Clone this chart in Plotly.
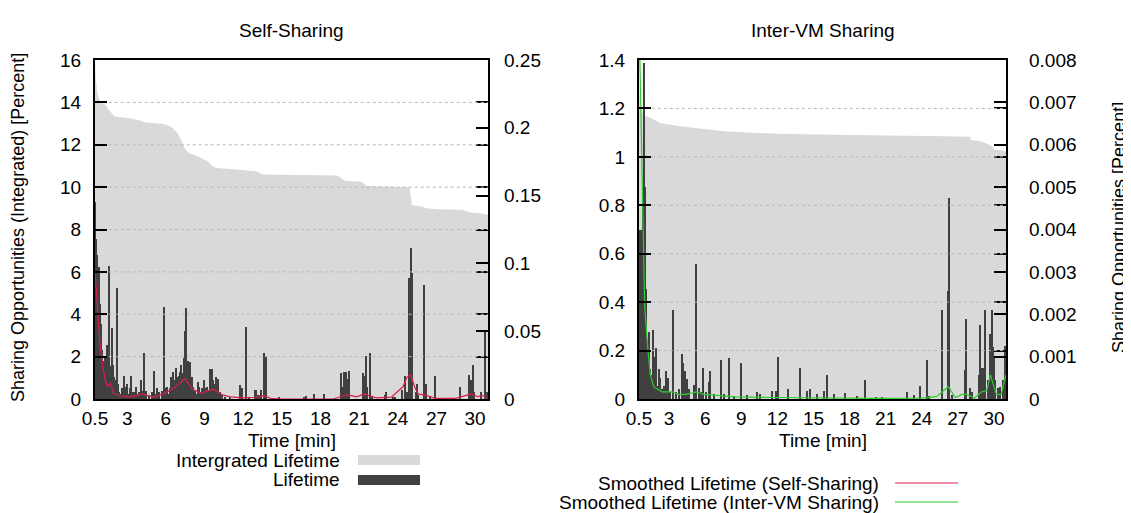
import plotly.graph_objects as go

# ---------------- data ----------------
x_tickvals = [0.5, 3, 6, 9, 12, 15, 18, 21, 24, 27, 30]
x_ticktext = ["0.5", "3", "6", "9", "12", "15", "18", "21", "24", "27", "30"]

# Self-Sharing: integrated lifetime (left axis, percent)
self_int_t = [0.5, 0.55, 0.65, 0.8, 1.0, 1.3, 1.5, 1.8, 2.0, 2.5, 3.2, 4.0, 4.4, 5.5, 6.0, 6.5, 6.9,
              7.2, 7.5, 7.8, 8.3, 8.8, 9.3, 9.6, 9.9, 11.0, 12.0, 13.0, 13.5, 19.3, 19.9, 21.2, 21.6,
              24.9, 25.1, 25.8, 26.2, 27.0, 29.0, 29.6, 30.5, 31.0]
self_int_v = [16.0, 15.2, 14.6, 14.2, 14.0, 13.9, 13.7, 13.5, 13.35, 13.3, 13.25, 13.15, 13.05, 13.0,
              12.95, 12.8, 12.55, 12.2, 11.8, 11.6, 11.5, 11.35, 11.2, 11.0, 10.9, 10.85, 10.8, 10.75,
              10.6, 10.55, 10.3, 10.25, 10.05, 10.0, 9.15, 9.1, 9.0, 8.95, 8.93, 8.8, 8.75, 8.7]

# Self-Sharing: lifetime (right axis, percent)
self_life_t = [0.5, 0.55, 0.6, 0.65, 0.7, 0.75, 0.8, 0.85, 0.9, 0.95, 1.0, 1.05, 1.1, 1.15, 1.2, 1.25,
               1.3, 1.35, 1.4, 1.45, 1.5, 1.55, 1.6, 1.65, 1.7, 1.75, 1.8, 1.85, 1.9, 1.95, 2.0, 2.1,
               2.2, 2.3, 2.4, 2.5, 2.6, 2.7, 2.8, 2.9, 3.0, 3.1, 3.2, 3.3, 3.4, 3.5, 3.6, 3.7, 3.8,
               3.9, 4.0, 4.1, 4.2, 4.3, 4.4, 4.5, 4.7, 4.9, 5.1, 5.2, 5.3, 5.5, 5.7, 5.88, 6.0, 6.1,
               6.2, 6.3, 6.4, 6.5, 6.6, 6.7, 6.8, 6.9, 7.0, 7.1, 7.2, 7.3, 7.4, 7.5, 7.58, 7.65, 7.7,
               7.8, 7.9, 8.0, 8.1, 8.2, 8.3, 8.4, 8.5, 8.6, 8.7, 8.8, 8.9, 9.0, 9.1, 9.2, 9.3, 9.4,
               9.5, 9.6, 9.7, 9.8, 9.9, 10.04, 10.2, 10.4, 10.6, 11.0, 11.76, 11.9, 12.24, 12.5,
               12.96, 13.0, 13.1, 13.2, 13.4, 13.6, 13.65, 13.75, 14.8, 16.7, 16.9, 17.5, 18.3,
               19.6, 19.7, 19.8, 19.85, 19.9, 19.95, 20.0, 20.1, 20.2, 21.3, 21.4, 21.45, 21.5,
               21.55, 21.6, 21.86, 22.0, 23.05, 23.1, 23.6, 23.8, 24.35, 24.6, 24.7, 24.9, 24.96,
               25.04, 25.1, 25.4, 25.5, 25.6, 26.05, 26.2, 26.5, 26.9, 28.8, 29.5, 29.6, 29.7,
               29.85, 29.95, 30.47, 30.8, 30.9]
self_life_v = [0.145, 0.118, 0.109, 0.100, 0.106, 0.090, 0.097, 0.072, 0.070, 0.055, 0.044, 0.036,
               0.028, 0.022, 0.019, 0.030, 0.031, 0.018, 0.019, 0.040, 0.028, 0.015, 0.098, 0.024,
               0.020, 0.016, 0.052, 0.022, 0.025, 0.012, 0.016, 0.014, 0.082, 0.011, 0.005, 0.004,
               0.008, 0.005, 0.017, 0.009, 0.011, 0.004, 0.008, 0.017, 0.005, 0.005, 0.003, 0.009,
               0.004, 0.005, 0.003, 0.014, 0.006, 0.034, 0.004, 0.006, 0.003, 0.005, 0.021, 0.004,
               0.008, 0.005, 0.006, 0.068, 0.008, 0.009, 0.004, 0.008, 0.016, 0.0125, 0.020, 0.014,
               0.023, 0.016, 0.017, 0.020, 0.025, 0.019, 0.030, 0.050, 0.067, 0.026, 0.028, 0.025,
               0.027, 0.016, 0.009, 0.006, 0.006, 0.004, 0.0125, 0.009, 0.005, 0.008, 0.004, 0.014,
               0.008, 0.009, 0.006, 0.022, 0.017, 0.022, 0.014, 0.011, 0.016, 0.015, 0.005, 0.003,
               0.0015, 0.0016, 0.010, 0.008, 0.053, 0.0015, 0.007, 0.007, 0.003, 0.003, 0.007,
               0.034, 0.009, 0.032, 0.0016, 0.0016, 0.002, 0.004, 0.004, 0.019, 0.009, 0.020, 0.020,
               0.020, 0.019, 0.020, 0.015, 0.021, 0.0195, 0.011, 0.017, 0.011, 0.032, 0.009, 0.034,
               0.002, 0.003, 0.005, 0.0016, 0.0016, 0.007, 0.017, 0.005, 0.089, 0.089, 0.111, 0.093,
               0.005, 0.011, 0.003, 0.084, 0.011, 0.0025, 0.017, 0.009, 0.018, 0.011, 0.014, 0.025,
               0.005, 0.005, 0.050, 0.005, 0.005]

# Self-Sharing: smoothed lifetime (right axis, percent)
self_smooth_t = [0.5, 0.7, 0.9, 1.08, 1.3, 1.47, 1.67, 1.98, 2.5, 3.3, 4.2, 5.0, 5.8, 6.7, 7.5, 8.0,
                 8.7, 9.7, 10.4, 11.0, 12.0, 13.0, 13.6, 14.1, 15.0, 19.0, 19.6, 20.0, 20.3, 20.8,
                 21.4, 22.3, 23.5, 24.4, 24.7, 25.0, 25.3, 25.58, 26.2, 26.9, 28.5, 29.7, 30.2,
                 30.55, 30.9]
self_smooth_v = [0.094, 0.0625, 0.039, 0.025, 0.014, 0.009, 0.0117, 0.0038, 0.0022, 0.0016, 0.0038,
                 0.0013, 0.0038, 0.0084, 0.0153, 0.0078, 0.0042, 0.0072, 0.003, 0.0016, 0.0009,
                 0.0013, 0.0027, 0.0005, 0.0, 0.0, 0.0016, 0.0031, 0.0027, 0.0016, 0.0038, 0.0009,
                 0.0014, 0.009, 0.016, 0.0177, 0.009, 0.0038, 0.0027, 0.0005, 0.0005, 0.0038,
                 0.0017, 0.0027, 0.0005]

# Inter-VM Sharing: integrated lifetime (left axis, percent)
vm_int_t = [0.5, 0.6, 0.75, 1.0, 1.4, 2.25, 3.5, 5.0, 7.8, 10.6, 12.0, 18.0, 24.0, 26.0, 28.0,
            28.1, 28.8, 29.4, 29.9, 30.0, 30.7, 31.0]
vm_int_v = [1.3, 1.21, 1.19, 1.17, 1.163, 1.14, 1.13, 1.12, 1.105, 1.1, 1.095, 1.09, 1.088, 1.085,
            1.083, 1.07, 1.065, 1.055, 1.042, 1.03, 1.026, 1.02]

# Inter-VM Sharing: lifetime (right axis, percent)
vm_life_t = [0.5, 0.55, 0.6, 0.65, 0.7, 0.75, 0.8, 0.85, 0.9, 0.95, 1.0, 1.05, 1.1, 1.15, 1.2, 1.25,
             1.3, 1.36, 1.45, 1.55, 1.64, 1.75, 1.85, 1.94, 2.05, 2.13, 2.24, 2.4, 2.55, 2.77, 2.88,
             3.1, 3.35, 3.6, 3.8, 4.07, 4.2, 4.35, 4.49, 4.7, 5.05, 5.27, 5.46, 5.7, 5.85, 6.1, 6.3,
             6.43, 6.7, 7.34, 7.6, 8.0, 8.4, 9.0, 9.5, 10.3, 10.6, 11.58, 11.9, 12.08, 12.9, 13.9,
             14.5, 14.7, 15.3, 15.9, 16.15, 16.7, 17.6, 18.6, 19.3, 20.2, 20.7, 22.75, 23.4, 23.83,
             24.45, 24.6, 25.7, 26.19, 26.27, 26.5, 27.6, 27.7, 28.0, 28.15, 28.76, 28.87, 28.98,
             29.18, 29.29, 29.54, 29.7, 29.75, 29.82, 29.85, 29.9, 29.95, 29.98, 30.1, 30.37, 30.5,
             30.8, 30.9, 30.95]
vm_life_v = [0.0040, 0.00354, 0.00286, 0.0026, 0.0040, 0.0017, 0.00486, 0.0044, 0.0023, 0.00792,
             0.0050, 0.0017, 0.0026, 0.0014, 0.00114, 0.00086, 0.0010, 0.00158, 0.0007, 0.00057,
             0.00162, 0.0010, 0.00034, 0.0012, 0.0003, 0.0007, 0.0005, 0.00023, 0.0003, 0.00066,
             0.0005, 0.00017, 0.0021, 0.00017, 0.00023, 0.00106, 0.00086, 0.00066, 0.00047,
             0.00023, 0.00034, 0.00318, 0.00026, 0.00017, 0.00073, 0.00017, 0.0004, 0.00067,
             0.00011, 0.00091, 0.00011, 0.00097, 0.00006, 0.00086, 0.00009, 0.00017, 0.00011,
             0.00019, 0.0002, 0.0010, 0.00023, 0.00073, 0.0002, 0.00023, 0.00011, 0.00019,
             0.00056, 0.00011, 0.00015, 0.00006, 0.00045, 0.00003, 0.00005, 0.00017, 0.00009,
             0.00031, 0.00091, 0.00006, 0.0021, 0.00255, 0.00474, 0.00009, 0.00069, 0.00189,
             0.00026, 0.00017, 0.00057, 0.00174, 0.00074, 0.00074, 0.00211, 0.00045, 0.00154,
             0.0011, 0.00211, 0.001, 0.00123, 0.0007, 0.00097, 0.00046, 0.00026, 0.00029, 0.00046,
             0.00051, 0.00126]

# Inter-VM Sharing: smoothed lifetime (right axis, percent)
vm_smooth_t = [0.5, 0.75, 0.97, 1.25, 1.44, 1.72, 2.4, 3.25, 3.8, 4.4, 5.3, 5.9, 6.85, 8.5, 12.0,
               16.0, 20.0, 24.0, 25.25, 26.2, 26.8, 27.35, 27.75, 28.4, 28.98, 29.4, 29.7, 30.2,
               30.6, 31.0]
vm_smooth_v = [0.0091, 0.0051, 0.0022, 0.00114, 0.00057, 0.00029, 0.00017, 0.00017, 0.00011,
               0.00011, 0.00017, 0.00011, 0.00009, 0.00005, 0.000035, 0.000023, 0.000017, 0.000023,
               0.00006, 0.00029, 0.000035, 0.00011, 0.00011, 0.000023, 0.00017, 0.0002, 0.00057,
               0.00011, 0.00011, 0.00057]

left_y_ticks = [2, 4, 6, 8, 10, 12, 14]
right_y_ticks = [0.2, 0.4, 0.6, 0.8, 1.0, 1.2]

# ---------------- style ----------------
OFF = 8                      # page body margin of the html output
W, H = 1131 - OFF, 513 - OFF
FONT = "Liberation Sans, Arial, Helvetica, sans-serif"
FS = 19
LIGHT = "#d9d9d9"
DARK = "#404040"
RED = "#dc1e4a"
GREEN = "#2ecc2e"

def px(x):
    return (x - OFF) / W

def py(y):
    return (H - (y - OFF)) / H

L_DOM = [px(95), px(488)]
R_DOM = [px(639), px(1006)]
Y_DOM = [py(399), py(60)]

fig = go.Figure()

# left panel
fig.add_trace(go.Scatter(x=self_int_t, y=self_int_v, xaxis="x", yaxis="y", mode="lines",
                         fill="tozeroy", fillcolor=LIGHT, line=dict(width=0, color=LIGHT),
                         name="Intergrated Lifetime", showlegend=False, hoverinfo="skip"))
fig.add_trace(go.Bar(x=self_life_t, y=self_life_v, xaxis="x", yaxis="y2", width=0.1,
                     marker=dict(color=DARK, line=dict(width=0)), name="Lifetime",
                     showlegend=False))
fig.add_trace(go.Scatter(x=self_smooth_t, y=self_smooth_v, xaxis="x", yaxis="y2", mode="lines",
                         line=dict(color=RED, width=1.2), name="Smoothed Lifetime (Self-Sharing)",
                         showlegend=False))

# right panel
fig.add_trace(go.Scatter(x=vm_int_t, y=vm_int_v, xaxis="x2", yaxis="y3", mode="lines",
                         fill="tozeroy", fillcolor=LIGHT, line=dict(width=0, color=LIGHT),
                         name="Intergrated Lifetime", showlegend=False, hoverinfo="skip"))
fig.add_trace(go.Bar(x=vm_life_t, y=vm_life_v, xaxis="x2", yaxis="y4", width=0.1,
                     marker=dict(color=DARK, line=dict(width=0)), name="Lifetime",
                     showlegend=False))
fig.add_trace(go.Scatter(x=vm_smooth_t, y=vm_smooth_v, xaxis="x2", yaxis="y4", mode="lines",
                         line=dict(color=GREEN, width=1.2),
                         name="Smoothed Lifetime (Inter-VM Sharing)", showlegend=False))

xcommon = dict(range=[0.5, 31], tickvals=x_tickvals, ticktext=x_ticktext, showline=True,
               mirror=True, linecolor="black", linewidth=2, ticks="", showgrid=False,
               zeroline=False, tickfont=dict(size=FS, color="black"), ticklabelstandoff=1,
               automargin=False)
ycommon = dict(showline=True, mirror="ticks", linecolor="black", linewidth=2, ticks="inside",
               ticklen=12, tickwidth=2, tickcolor="black", showgrid=False, zeroline=False,
               tickfont=dict(size=FS, color="black"), ticklabelstandoff=8, automargin=False)
y2common = dict(side="right", ticks="inside", ticklen=12, tickwidth=2, tickcolor="black",
                showgrid=False, zeroline=False, showline=False,
                tickfont=dict(size=FS, color="black"), automargin=False)

fig.update_layout(
    width=W, height=H, autosize=False,
    margin=dict(l=0, r=0, t=0, b=0, pad=0, autoexpand=False),
    paper_bgcolor="white", plot_bgcolor="white",
    font=dict(family=FONT, size=FS, color="black"),
    barmode="overlay", bargap=0,
    showlegend=False,
    xaxis=dict(domain=L_DOM, anchor="y", **xcommon),
    yaxis=dict(domain=Y_DOM, anchor="x", range=[0, 16], dtick=2, **ycommon),
    yaxis2=dict(overlaying="y", anchor="x", range=[0, 0.25], dtick=0.05,
                ticklabelstandoff=15, **y2common),
    xaxis2=dict(domain=R_DOM, anchor="y3", **xcommon),
    yaxis3=dict(domain=Y_DOM, anchor="x2", range=[0, 1.4], dtick=0.2, **ycommon),
    yaxis4=dict(overlaying="y3", anchor="x2", range=[0, 0.008], dtick=0.001,
                ticklabelstandoff=22, **y2common),
)

# dotted grid lines drawn in front (gnuplot "grid front")
for v in left_y_ticks:
    fig.add_shape(type="line", xref="x domain", yref="y", x0=0.035, x1=1, y0=v, y1=v,
                  line=dict(color="#b8b8b8", width=1, dash="dot"), layer="above")
for v in right_y_ticks:
    fig.add_shape(type="line", xref="x2 domain", yref="y3", x0=0.035, x1=1, y0=v, y1=v,
                  line=dict(color="#b8b8b8", width=1, dash="dot"), layer="above")

# titles
ann = []
ann.append(dict(text="Self-Sharing", x=(L_DOM[0] + L_DOM[1]) / 2, y=py(30), xref="paper",
                yref="paper", showarrow=False, xanchor="center", yanchor="middle"))
ann.append(dict(text="Inter-VM Sharing", x=(R_DOM[0] + R_DOM[1]) / 2, y=py(30), xref="paper",
                yref="paper", showarrow=False, xanchor="center", yanchor="middle"))
ann.append(dict(text="Time [min]", x=(L_DOM[0] + L_DOM[1]) / 2, y=py(440), xref="paper",
                yref="paper", showarrow=False, xanchor="center", yanchor="middle"))
ann.append(dict(text="Time [min]", x=(R_DOM[0] + R_DOM[1]) / 2, y=py(440), xref="paper",
                yref="paper", showarrow=False, xanchor="center", yanchor="middle"))
ann.append(dict(text="Sharing Opportunities (Integrated) [Percent]", x=px(18), y=py(228),
                xref="paper", yref="paper", showarrow=False, textangle=-90,
                xanchor="center", yanchor="middle", font=dict(size=18)))
ann.append(dict(text="Sharing Opportunities [Percent]", x=px(1119), y=py(228),
                xref="paper", yref="paper", showarrow=False, textangle=-90,
                xanchor="center", yanchor="middle", font=dict(size=18)))

# key (gnuplot style: text right-aligned, sample to its right)
key_rows = [
    ("Intergrated Lifetime", 342, 460, "box", LIGHT, 358, 420),
    ("Lifetime", 342, 480, "box", DARK, 358, 420),
    ("Smoothed Lifetime (Self-Sharing)", 881, 483, "line", RED, 895, 958),
    ("Smoothed Lifetime (Inter-VM Sharing)", 881, 502, "line", GREEN, 895, 958),
]
for label, xr, yc, kind, col, s0, s1 in key_rows:
    ann.append(dict(text=label, x=px(xr), y=py(yc), xref="paper", yref="paper",
                    showarrow=False, xanchor="right", yanchor="middle"))
    if kind == "box":
        fig.add_shape(type="rect", xref="paper", yref="paper", x0=px(s0), x1=px(s1),
                      y0=py(yc + 5), y1=py(yc - 5), fillcolor=col, line=dict(width=0))
    else:
        fig.add_shape(type="line", xref="paper", yref="paper", x0=px(s0), x1=px(s1),
                      y0=py(yc), y1=py(yc), line=dict(color=col, width=1.2))

fig.update_layout(annotations=ann)
fig.write_html("out.html")
